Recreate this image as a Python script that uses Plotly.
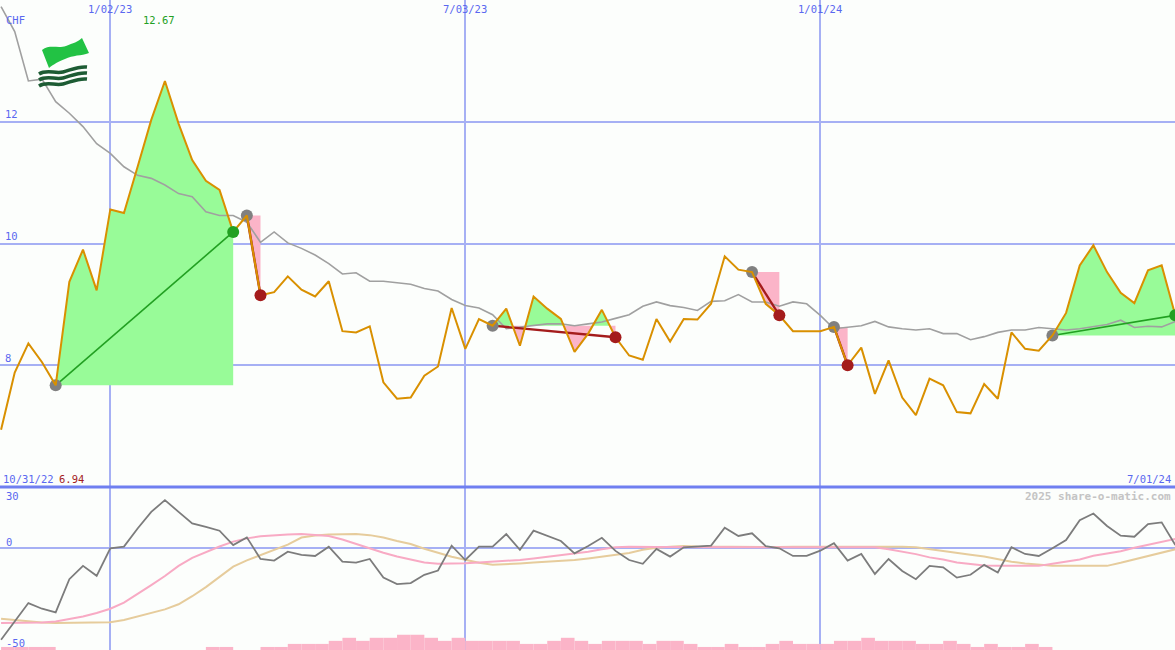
import pandas as pd
import plotly.graph_objects as go

# ---------------- data ----------------
dates = pd.date_range("2022-11-07", "2024-07-01", freq="7D")

price = [6.94, 7.88, 8.36, 8.05, 7.67, 9.37, 9.90, 9.23,
         10.56, 10.50, 11.26, 12.03, 12.67, 11.97, 11.37, 11.03, 10.88, 10.19,
         10.46, 9.15, 9.20, 9.46, 9.24, 9.13, 9.38, 8.56, 8.54, 8.64,
         7.72, 7.45, 7.47, 7.83, 7.98, 8.94, 8.27, 8.76, 8.65, 8.93,
         8.32, 9.13, 8.93, 8.76, 8.22, 8.52, 8.91, 8.46, 8.16, 8.09,
         8.76, 8.39, 8.76, 8.75, 9.01, 9.79, 9.57, 9.53, 9.01, 8.82,
         8.56, 8.56, 8.56, 8.63, 8.00, 8.29, 7.53, 8.08, 7.47, 7.18,
         7.78, 7.67, 7.23, 7.21, 7.69, 7.45, 8.54, 8.27, 8.24, 8.49,
         8.86, 9.64, 9.97, 9.53, 9.19, 9.02, 9.56, 9.64, 8.82]

moving_avg = [13.89, 13.48, 12.67, 12.70, 12.33, 12.14, 11.92, 11.64,
              11.48, 11.26, 11.12, 11.07, 10.96, 10.82, 10.77, 10.52, 10.46, 10.46,
              10.35, 10.02, 10.19, 10.01, 9.92, 9.81, 9.67, 9.50, 9.52, 9.38,
              9.38, 9.36, 9.33, 9.26, 9.22, 9.08, 8.98, 8.94, 8.83, 8.60,
              8.63, 8.65, 8.68, 8.68, 8.65, 8.68, 8.71, 8.77, 8.83, 8.97,
              9.04, 8.98, 8.95, 8.90, 9.05, 9.06, 9.16, 9.04, 9.04, 8.97,
              9.04, 9.01, 8.82, 8.60, 8.63, 8.65, 8.72, 8.63, 8.60, 8.58,
              8.60, 8.52, 8.52, 8.42, 8.47, 8.54, 8.58, 8.58, 8.62, 8.60,
              8.58, 8.60, 8.63, 8.67, 8.74, 8.62, 8.64, 8.63, 8.72]

oscillator = [-45.5, -36.5, -27.4, -30.2, -32.0, -15.6, -9.0, -13.9,
              -0.3, 0.5, 9.5, 17.7, 23.5, 17.7, 12.0, 10.3, 8.4, 1.3,
              5.1, -5.6, -6.4, -2.0, -3.6, -4.1, 0.5, -6.9, -7.4, -5.6,
              -14.8, -18.0, -17.5, -13.4, -11.3, 1.0, -6.1, 0.5, 0.5, 6.7,
              -1.1, 8.4, 5.8, 3.3, -2.8, 0.8, 4.9, -1.6, -6.1, -8.0,
              -0.6, -4.4, 0.2, 0.5, 1.0, 9.9, 5.8, 7.1, 0.8, -0.3,
              -4.1, -4.1, -1.5, 2.2, -6.4, -3.1, -13.0, -5.6, -11.5, -15.6,
              -9.0, -9.7, -14.8, -13.4, -8.5, -12.3, 0.2, -3.1, -4.1, -0.3,
              3.8, 13.6, 16.9, 10.7, 5.9, 5.4, 11.7, 12.5, 1.3]

signal_pink = [-37.3, -37.3, -37.3, -37.0, -36.5, -35.3, -34.0, -32.3,
               -30.2, -27.2, -23.0, -18.5, -14.0, -9.0, -5.0, -2.0, 0.6, 3.0,
               4.6, 5.6, 6.2, 6.5, 6.7, 6.4, 5.8, 4.0, 1.8, -0.3,
               -2.5, -4.4, -6.0, -7.3, -8.0, -8.0, -7.7, -7.3, -6.9, -6.5,
               -6.1, -5.3, -4.5, -3.8, -3.1, -2.0, -0.8, 0.2, 0.5, 0.3,
               0.3, 0.3, 0.3, 0.5, 0.5, 0.5, 0.5, 0.5, 0.5, 0.5,
               0.5, 0.5, 0.5, 0.5, 0.5, 0.5, 0.2, -0.8, -2.0, -3.2,
               -4.8, -5.8, -7.3, -8.1, -8.8, -9.0, -9.0, -9.0, -9.0, -8.0,
               -6.9, -5.8, -4.0, -3.0, -1.8, 0.0, 1.5, 3.0, 4.3]

signal_tan = [-35.1, -35.8, -36.6, -37.0, -37.2, -37.2, -37.2, -37.0,
              -36.9, -35.8, -34.0, -32.5, -30.5, -28.0, -24.0, -19.5, -14.5, -9.4,
              -6.3, -3.6, -1.0, 1.5, 5.0, 6.0, 6.5, 6.7, 6.7, 6.2,
              5.0, 3.3, 1.8, -0.5, -2.5, -4.5, -6.0, -7.5, -8.5, -8.3,
              -7.8, -7.3, -6.9, -6.5, -6.1, -5.3, -4.3, -3.5, -2.6, -1.0,
              0.0, 0.5, 0.8, 0.6, 0.5, 0.5, 0.5, 0.3, 0.3, 0.3,
              0.5, 0.5, 0.6, 0.8, 0.8, 0.8, 0.8, 0.8, 0.5, 0.2,
              -0.8, -1.6, -2.6, -3.5, -4.4, -5.8, -7.0, -7.8, -8.5, -9.0,
              -9.0, -9.0, -9.0, -9.0, -7.5, -5.8, -4.0, -2.4, -0.8]

volume = [1, 1, 1, 1, 0, 0, 0, 0,
          0, 0, 0, 0, 0, 0, 0, 1, 1, 0,
          0, 1, 1, 2, 2, 2, 3, 4, 3, 4,
          4, 5, 5, 4, 3, 4, 3, 3, 3, 3,
          2, 2, 3, 4, 3, 2, 3, 3, 3, 2,
          3, 3, 2, 1, 1, 2, 1, 1, 2, 3,
          2, 2, 2, 3, 3, 4, 3, 3, 3, 2,
          2, 3, 2, 1, 2, 1, 1, 2, 1, 0,
          0, 0, 0, 0, 0, 0, 0, 0, 0]

entry_dates = ["2022-12-05", "2023-03-13", "2023-07-17", "2023-11-27", "2024-01-08", "2024-04-29"]
exit_dates = ["2023-03-06", "2023-03-20", "2023-09-18", "2023-12-11", "2024-01-15", "2024-07-01"]

grid_dates = ["2023-01-02", "2023-07-03", "2024-01-01"]
grid_labels = ["1/02/23", "7/03/23", "1/01/24"]
price_ticks = [8, 10, 12]
osc_ticks = [30, 0, -50]
start_label, end_label = "10/31/22", "7/01/24"
high_label, low_label = "12.67", "6.94"
currency = "CHF"
watermark = "2025 share-o-matic.com"

# ---------------- styling ----------------
W, H = 1175, 650
BG = "#fcfefc"
GRID = "#a6b0f4"
SEP = "#6f7ff0"
BLUE_TXT = "#5a68f0"
ORANGE = "#d99000"
MA_GREY = "#a0a0a0"
GREEN_FILL = "#98fb98"
PINK_FILL = "#fbb4c8"
GREEN = "#22a022"
RED = "#a41c1c"
MONO = "DejaVu Sans Mono"

split = 487 / H
main_dom = [1 - split, 1]
ind_dom = [0, 1 - split]

px_per_day = 13.654 / 7
x_left = pd.Timestamp("2023-01-02") - pd.Timedelta(days=110.3 / px_per_day)
x_right = pd.Timestamp("2023-01-02") + pd.Timedelta(days=(W - 110.3) / px_per_day)

idx = {d: i for i, d in enumerate(dates)}
base = dates[0]


def tdate(t):
    return (base + pd.Timedelta(days=7 * t)).isoformat()


def fill_poly(i0, i1, level, above):
    pts = []
    for i in range(i0, i1):
        p0, p1 = price[i], price[i + 1]
        pts.append((i, p0))
        if (p0 - level) * (p1 - level) < 0:
            pts.append((i + (level - p0) / (p1 - p0), level))
    pts.append((i1, price[i1]))
    xs = [tdate(t) for t, _ in pts]
    ys = [max(p, level) if above else min(p, level) for _, p in pts]
    return xs + [xs[-1], xs[0], xs[0]], ys + [level, level, ys[0]]


fig = go.Figure()

trades = [(idx[pd.Timestamp(e)], idx[pd.Timestamp(x)]) for e, x in zip(entry_dates, exit_dates)]

# trade fills
for i0, i1 in trades:
    lvl = price[i0]
    for above, col in ((True, GREEN_FILL), (False, PINK_FILL)):
        fx, fy = fill_poly(i0, i1, lvl, above)
        fig.add_trace(go.Scatter(x=fx, y=fy, mode="lines", fill="toself", fillcolor=col,
                                 line=dict(width=0), hoverinfo="skip", xaxis="x", yaxis="y"))

# moving average
fig.add_trace(go.Scatter(x=dates, y=moving_avg, mode="lines",
                         line=dict(color=MA_GREY, width=1.6), xaxis="x", yaxis="y"))

# trade lines and entry markers
for i0, i1 in trades:
    win = price[i1] > price[i0]
    fig.add_trace(go.Scatter(x=[dates[i0], dates[i1]], y=[price[i0], price[i1]], mode="lines",
                             line=dict(color=GREEN if win else RED, width=1.6 if win else 2.4),
                             xaxis="x", yaxis="y"))
fig.add_trace(go.Scatter(x=[dates[i0] for i0, _ in trades], y=[price[i0] for i0, _ in trades],
                         mode="markers", marker=dict(color="#808080", size=12, line=dict(width=0)),
                         xaxis="x", yaxis="y"))

# price line
fig.add_trace(go.Scatter(x=dates, y=price, mode="lines",
                         line=dict(color=ORANGE, width=2), xaxis="x", yaxis="y"))

# exit markers
fig.add_trace(go.Scatter(x=[dates[i1] for _, i1 in trades], y=[price[i1] for _, i1 in trades],
                         mode="markers",
                         marker=dict(color=[GREEN if price[i1] > price[i0] else RED for i0, i1 in trades],
                                     size=12, line=dict(width=0)),
                         xaxis="x", yaxis="y"))

# indicator panel
fig.add_trace(go.Bar(x=dates, y=volume, width=7 * 86400000, offset=0,
                     marker=dict(color=PINK_FILL, line=dict(width=0)),
                     xaxis="x2", yaxis="y3"))
fig.add_trace(go.Scatter(x=dates, y=signal_tan, mode="lines",
                         line=dict(color="#e6cc9c", width=2), xaxis="x2", yaxis="y2"))
fig.add_trace(go.Scatter(x=dates, y=signal_pink, mode="lines",
                         line=dict(color="#f8aac4", width=2), xaxis="x2", yaxis="y2"))
fig.add_trace(go.Scatter(x=dates, y=oscillator, mode="lines",
                         line=dict(color="#7c7c7c", width=1.8), xaxis="x2", yaxis="y2"))

xcommon = dict(type="date", range=[x_left.isoformat(), x_right.isoformat()],
               tickvals=grid_dates, showticklabels=False, showgrid=True,
               gridcolor=GRID, gridwidth=2, zeroline=False, showline=False, ticks="")

fig.update_layout(
    width=W, height=H, margin=dict(l=0, r=0, t=0, b=0),
    paper_bgcolor=BG, plot_bgcolor=BG, showlegend=False,
    xaxis=dict(domain=[0, 1], anchor="y", **xcommon),
    xaxis2=dict(domain=[0, 1], anchor="y2", matches="x", **xcommon),
    yaxis=dict(domain=main_dom, range=[6, 14], tickvals=price_ticks,
               ticktext=[str(v) for v in price_ticks], ticklabelposition="inside top",
               ticklabelstandoff=2,
               tickfont=dict(family=MONO, size=10.5, color=BLUE_TXT), showgrid=True,
               gridcolor=GRID, gridwidth=2, zeroline=False, showline=False, ticks=""),
    yaxis2=dict(domain=ind_dom, range=[-50.6, 30], tickvals=[0], showticklabels=False,
                showgrid=True, gridcolor=GRID, gridwidth=2, zeroline=False, ticks=""),
    yaxis3=dict(overlaying="y2", range=[0, 163 / 3.05], visible=False),
    font=dict(family=MONO, size=10, color=BLUE_TXT),
)

# panel separator
fig.add_shape(type="line", xref="paper", yref="paper", x0=0, x1=1, y0=1 - split, y1=1 - split,
              line=dict(color=SEP, width=3))


def ann(text, xpx, ypx, color=BLUE_TXT, xanchor="left", size=10.5, xref="paper", bold=False):
    fig.add_annotation(text=("<b>%s</b>" % text) if bold else text,
                       x=(xpx / W) if xref == "paper" else xpx, xref=xref,
                       y=1 - ypx / H, yref="paper", xanchor=xanchor, yanchor="middle",
                       showarrow=False, font=dict(family=MONO, size=size, color=color))


for d, lab in zip(grid_dates, grid_labels):
    ann(lab, d, 9, xanchor="center", xref="x")
ann(currency, 4, 20)
ann(high_label, 141, 20, color=GREEN)
ann(start_label, 1, 479)
ann(low_label, 57, 479, color=RED)
ann(end_label, W - 2, 479, xanchor="right")
ann(watermark, W - 2, 496, color="#c4c4c4", xanchor="right", size=11, bold=True)
for v in osc_ticks:
    ypx = 487 + (30 - v) * (163 / 80.6)
    off = {30: 9, 0: -6, -50: -6}[v]
    ann(str(v), 4, ypx + off)

# logo (flag and waves)


def ppath(pts_cmd):
    out = []
    for tok in pts_cmd:
        if isinstance(tok, str):
            out.append(tok)
        else:
            out.append("%.5f,%.5f" % (tok[0] / W, 1 - tok[1] / H))
    return " ".join(out)


flag = ppath(["M", (42, 50), "C", (50, 44), (58, 49), (66, 46), "C", (73, 43), (78, 42), (82, 38),
              "L", (89, 53), "C", (81, 56), (73, 55), (65, 59), "C", (58, 62), (54, 64), (49, 68), "Z"])
fig.add_shape(type="path", xref="paper", yref="paper", path=flag,
              fillcolor="#22c244", line=dict(width=0))
for k in range(3):
    dy = 6 * k
    wave = ppath(["M", (39, 74 + dy), "C", (47, 69 + dy), (55, 74 + dy), (63, 72 + dy),
                  "S", (78, 66 + dy), (87, 67 + dy)])
    fig.add_shape(type="path", xref="paper", yref="paper", path=wave,
                  line=dict(color="#1d5c34", width=3.5))

fig.write_html("out.html", config={"displayModeBar": False},
               post_script="document.body.style.margin='0';")
